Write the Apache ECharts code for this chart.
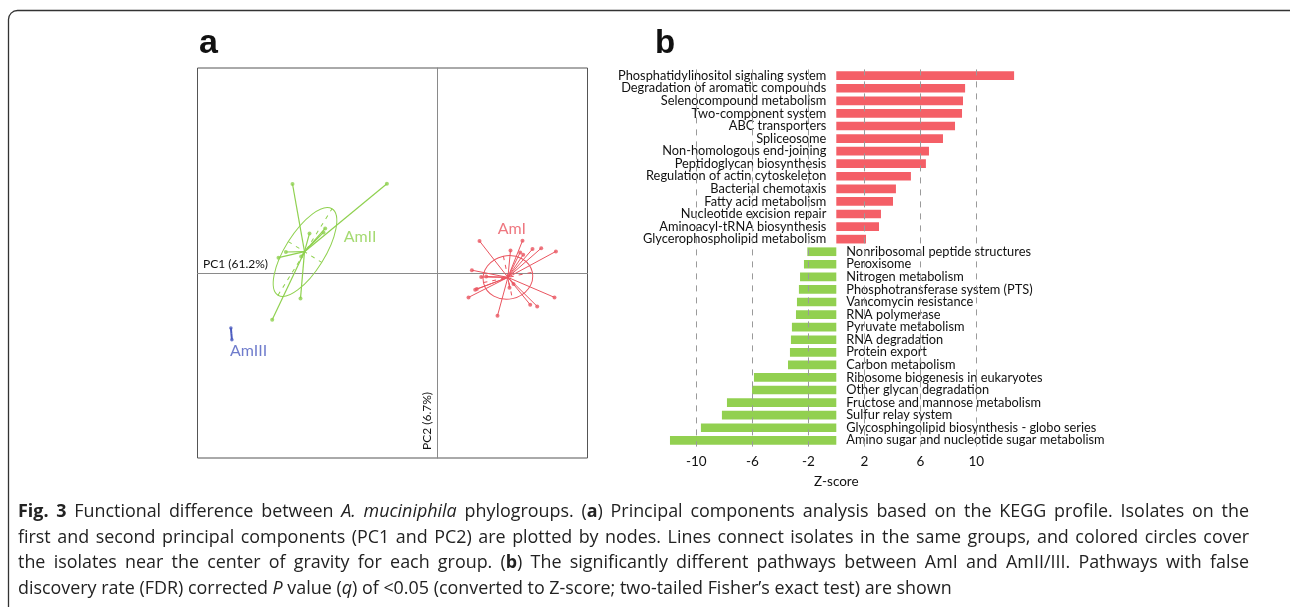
<!DOCTYPE html>
<html><head><meta charset="utf-8">
<script src="https://cdn.jsdelivr.net/npm/echarts@6/dist/echarts.min.js"></script>
<style>html,body{margin:0;padding:0;background:#fff}#c{width:1290px;height:607px}</style>
</head><body><div id="c"></div>
<script>
// ---------- Panel b data ----------
const upPathways = ['Phosphatidylinositol signaling system','Degradation of aromatic compounds','Selenocompound metabolism','Two-component system','ABC transporters','Spliceosome','Non-homologous end-joining','Peptidoglycan biosynthesis','Regulation of actin cytoskeleton','Bacterial chemotaxis','Fatty acid metabolism','Nucleotide excision repair','Aminoacyl-tRNA biosynthesis','Glycerophospholipid metabolism'];
const downPathways = ['Nonribosomal peptide structures','Peroxisome','Nitrogen metabolism','Phosphotransferase system (PTS)','Vancomycin resistance','RNA polymerase','Pyruvate metabolism','RNA degradation','Protein export','Carbon metabolism','Ribosome biogenesis in eukaryotes','Other glycan degradation','Fructose and mannose metabolism','Sulfur relay system','Glycosphingolipid biosynthesis - globo series','Amino sugar and nucleotide sugar metabolism'];
const upZ = [12.7, 9.2, 9.05, 8.98, 8.48, 7.62, 6.62, 6.4, 5.33, 4.26, 4.05, 3.19, 3.05, 2.12];
const downZ = [-2.07, -2.31, -2.59, -2.67, -2.81, -2.88, -3.17, -3.24, -3.31, -3.45, -5.88, -6.02, -7.81, -8.17, -9.67, -11.88];
const zTicks = [-10, -6, -2, 2, 6, 10];

// ---------- Panel a data (PC1, PC2 in arbitrary PCA units) ----------
const amIPoints = [[4.2,3.2],[8.5,3.23],[7.3,2.26],[8.27,2.06],[8.57,1.83],[9.5,2.4],[10.37,2.48],[11.84,2.16],[3.44,0.28],[4.37,-0.4],[4.87,-0.34],[3.77,-1.67],[3.94,-1.6],[3.1,-2.44],[6.0,-4.27],[7.2,-1.47],[9.27,-3.17],[9.97,-3.34],[11.7,-2.44],[7.6,-1.1]];
const amIIPoints = [[-14.5,8.9],[-5.06,8.93],[-16.53,-4.67],[-13.7,-2.54],[-15.9,1.53],[-15.16,2.1],[-12.8,3.96],[-11.23,4.46],[-11.4,4.06],[-13.63,1.66]];
const amIIIPoints = [[-20.66,-5.5],[-20.56,-6.67]];
const groupNames = ['AmI','AmII','AmIII'];
const groupCenters = [[7.04,-0.44],[-13.3,2.13],[-20.61,-6.08]];
// ellipse: [cx, cy, semi-axis a, semi-axis b, angle deg]
const groupEllipses = [[7.04,-0.44,2.5,2.17,12],[-13.25,2.1,5.1,1.97,58]];
const groupLabelPos = [[7.44,4.43],[-7.73,3.66],[-18.9,-7.74]];

const colI = '#ea5560', colII = '#8fd14f', colIII = '#4b5bbf';
const groupColors = [colI, colII, colIII];

const categories = upPathways.concat(downPathways);
const upSeries = upZ.concat(downPathways.map(() => null));
const downSeries = upPathways.map(() => null).concat(downZ);

function starData(center, pts) { return pts.map(p => [center[0], center[1], p[0], p[1]]); }
function starSeries(center, pts, color, w) {
  return {
    type: 'custom', xAxisIndex: 0, yAxisIndex: 0, silent: true, z: 3,
    data: starData(center, pts), encode: { x: [0, 2], y: [1, 3] },
    renderItem: (params, api) => {
      const c = api.coord([api.value(0), api.value(1)]);
      const p = api.coord([api.value(2), api.value(3)]);
      return { type: 'line', shape: { x1: c[0], y1: c[1], x2: p[0], y2: p[1] }, style: { stroke: color, lineWidth: w } };
    }
  };
}
function ellipseSeries(e, color) {
  return {
    type: 'custom', xAxisIndex: 0, yAxisIndex: 0, silent: true, z: 3,
    data: [e], encode: { x: 0, y: 1 },
    renderItem: (params, api) => {
      const c = api.coord([api.value(0), api.value(1)]);
      const s = api.size([api.value(2), api.value(3)]);
      const a = s[0], b = s[1];
      return {
        type: 'group', x: c[0], y: c[1], rotation: api.value(4) * Math.PI / 180,
        children: [
          { type: 'ellipse', shape: { cx: 0, cy: 0, rx: a, ry: b }, style: { fill: 'none', stroke: color, lineWidth: 1 } },
          { type: 'line', shape: { x1: -a, y1: 0, x2: a, y2: 0 }, style: { stroke: color, lineWidth: 1, lineDash: [4, 5] } },
          { type: 'line', shape: { x1: 0, y1: -b, x2: 0, y2: b }, style: { stroke: color, lineWidth: 1, lineDash: [4, 5] } }
        ]
      };
    }
  };
}
function dotSeries(pts, color, size) {
  return { type: 'scatter', xAxisIndex: 0, yAxisIndex: 0, data: pts, symbolSize: size, itemStyle: { color: color }, silent: true, z: 4 };
}

// ---------- caption (justified by measuring words) ----------
const capFont = "'Open Sans', 'Noto Sans', sans-serif";
const capSize = 17.9;
const capStyle = { fontFamily: capFont, fontSize: capSize, fill: '#222' };
const capRich = { b: { fontFamily: capFont, fontSize: capSize, fontWeight: 'bold', fill: '#222' }, i: { fontFamily: capFont, fontSize: capSize, fontStyle: 'italic', fill: '#222' } };
const captionLines = [
  '{b|Fig.} {b|3} Functional difference between {i|A.} {i|muciniphila} phylogroups. ({b|a}) Principal components analysis based on the KEGG profile. Isolates on the',
  'first and second principal components (PC1 and PC2) are plotted by nodes. Lines connect isolates in the same groups, and colored circles cover',
  'the isolates near the center of gravity for each group. ({b|b}) The significantly different pathways between AmI and AmII/III. Pathways with false',
  'discovery rate (FDR) corrected {i|P} value ({i|q}) of <0.05 (converted to Z-score; two-tailed Fisher\u2019s exact test) are shown'
];
const captionJustify = [true, true, true, false];
const captionY = [512, 537.7, 563.3, 589];
const capLeft = 18, capRight = 1249;

const mctx = document.createElement('canvas').getContext('2d');
function fontOf(kind) { return (kind === 'i' ? 'italic ' : '') + (kind === 'b' ? 'bold ' : '') + capSize + 'px ' + capFont; }
function measureWord(w) {
  let width = 0;
  w.replace(/\{(\w)\|([^}]*)\}|([^{]+)/g, (m, k, t, plain) => {
    mctx.font = fontOf(k || 'n');
    width += mctx.measureText(k ? t : plain).width;
    return m;
  });
  return width;
}
mctx.font = fontOf('n');
const spaceW = mctx.measureText(' ').width;
const captionGraphics = [];
captionLines.forEach((line, li) => {
  const words = line.split(' ');
  const widths = words.map(measureWord);
  const total = widths.reduce((a, b) => a + b, 0);
  let gap = captionJustify[li] ? (capRight - capLeft - total) / (words.length - 1) : spaceW;
  if (gap < spaceW * 0.6) gap = spaceW * 0.6;
  let x = capLeft;
  words.forEach((w, wi) => {
    captionGraphics.push({ type: 'text', x: x, y: captionY[li], silent: true, style: Object.assign({ text: w, rich: capRich, verticalAlign: 'middle' }, capStyle) });
    x += widths[wi] + gap;
  });
});

const chart = echarts.init(document.getElementById('c'), null, { renderer: 'canvas' });
const labelFont = "Lato, 'Open Sans', sans-serif";
const barLabel = { show: true, formatter: '{b}', distance: 10, fontFamily: labelFont, fontSize: 12.8, color: '#111' };

chart.setOption({
  animation: false,
  backgroundColor: '#fff',
  grid: [
    { left: 197.5, top: 68, width: 390, height: 390, show: true, borderColor: '#555', borderWidth: 1, backgroundColor: 'transparent', outerBoundsMode: 'none', containLabel: false },
    { left: 668.3, top: 69.4, width: 336, height: 377.2, show: false, outerBoundsMode: 'none', containLabel: false }
  ],
  xAxis: [
    { gridIndex: 0, type: 'value', min: -24, max: 15, axisLine: { show: true, onZero: true, lineStyle: { color: '#8a8a8a', width: 1 } }, axisTick: { show: false }, axisLabel: { show: false }, splitLine: { show: false } },
    { gridIndex: 1, type: 'value', min: -12, max: 12, interval: 2,
      axisLine: { show: false }, axisTick: { show: false }, splitLine: { show: false },
      axisLabel: { margin: 8, fontFamily: labelFont, fontSize: 13.5, color: '#111', formatter: v => zTicks.includes(v) ? String(v) : '' },
      name: 'Z-score', nameLocation: 'middle', nameGap: 28, nameTextStyle: { fontFamily: labelFont, fontSize: 13.5, color: '#111' } }
  ],
  yAxis: [
    { gridIndex: 0, type: 'value', min: -18.5, max: 20.5, axisLine: { show: true, onZero: true, lineStyle: { color: '#8a8a8a', width: 1 } }, axisTick: { show: false }, axisLabel: { show: false }, splitLine: { show: false } },
    { gridIndex: 1, type: 'category', data: categories, inverse: true,
      axisLine: { show: false }, axisTick: { show: false }, splitLine: { show: false }, axisLabel: { show: false } }
  ],
  series: [
    // dashed reference lines
    { type: 'bar', xAxisIndex: 1, yAxisIndex: 1, data: [], z: 1, silent: true,
      markLine: { silent: true, symbol: 'none', label: { show: false }, lineStyle: { type: [6, 6], color: '#9a9a9a', width: 1 }, data: zTicks.map(v => ({ xAxis: v })) } },
    { name: 'AmI enriched', type: 'bar', xAxisIndex: 1, yAxisIndex: 1, data: upSeries, barWidth: '69%', barGap: '-100%', clip: false, itemStyle: { color: '#f45f67' }, z: 2, silent: true,
      label: Object.assign({ position: 'left' }, barLabel) },
    { name: 'AmII/III enriched', type: 'bar', xAxisIndex: 1, yAxisIndex: 1, data: downSeries, barWidth: '69%', barGap: '-100%', itemStyle: { color: '#92d050' }, z: 2, silent: true,
      label: Object.assign({ position: 'right' }, barLabel) },
    // PCA
    ellipseSeries(groupEllipses[0], colI),
    ellipseSeries(groupEllipses[1], colII),
    starSeries(groupCenters[0], amIPoints, colI, 1),
    starSeries(groupCenters[1], amIIPoints, colII, 1.2),
    starSeries(groupCenters[2], amIIIPoints, colIII, 2),
    dotSeries(amIPoints, colI, 4),
    dotSeries(amIIPoints, colII, 4),
    dotSeries(amIIIPoints, colIII, 3.5),
    { type: 'scatter', xAxisIndex: 0, yAxisIndex: 0, symbolSize: 1, itemStyle: { color: 'transparent' }, silent: true, z: 5,
      data: groupLabelPos.map((p, i) => ({ value: p, name: groupNames[i], label: { color: groupColors[i] } })),
      label: { show: true, position: 'inside', formatter: p => p.name, fontFamily: labelFont, fontSize: 16 } }
  ],
  graphic: [
    { type: 'rect', shape: { x: 8.5, y: 10.5, width: 1295, height: 620, r: 9 }, style: { fill: 'none', stroke: '#333', lineWidth: 1.3 }, silent: true, z: 0 },
    { type: 'text', x: 199, y: 44, style: { text: 'a', fontFamily: "'Liberation Sans', Arial, sans-serif", fontWeight: 'bold', fontSize: 34, fill: '#111', verticalAlign: 'middle' } },
    { type: 'text', x: 655, y: 44, style: { text: 'b', fontFamily: "'Liberation Sans', Arial, sans-serif", fontWeight: 'bold', fontSize: 33, fill: '#111', verticalAlign: 'middle' } },
    { type: 'text', x: 203, y: 264, style: { text: 'PC1 (61.2%)', fontFamily: labelFont, fontSize: 12, fill: '#111', verticalAlign: 'middle' } },
    { type: 'text', x: 427, y: 421, rotation: Math.PI / 2, style: { text: 'PC2 (6.7%)', fontFamily: labelFont, fontSize: 12, fill: '#111', align: 'center', verticalAlign: 'middle' } }
  ].concat(captionGraphics)
});
</script></body></html>
